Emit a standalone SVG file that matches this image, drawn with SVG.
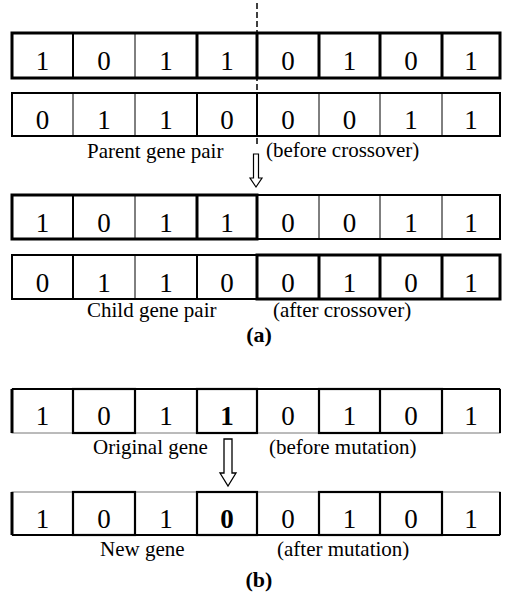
<svg xmlns="http://www.w3.org/2000/svg" width="507" height="602" viewBox="0 0 507 602">
<style>
.d{font-family:"Liberation Serif","Times New Roman",serif;font-size:27px;text-anchor:middle;fill:#000}
.b{font-weight:bold}
.l{font-family:"Liberation Serif","Times New Roman",serif;font-size:21px;fill:#000}
.t{font-family:"Liberation Serif","Times New Roman",serif;font-size:22px;font-weight:bold;text-anchor:middle;fill:#000}
.f{fill:#fff;stroke:#000}
.s1{stroke:#000;stroke-width:1;fill:none}
.s2{stroke:#000;stroke-width:2;fill:none}
.s3{stroke:#000;stroke-width:3;fill:none}
.m{stroke:#000;stroke-width:2.2;fill:none}
.g1{stroke:#777;stroke-width:1;fill:none}
</style>
<rect width="507" height="602" fill="#fff"/>

<g id="parent1">
<rect x="12" y="33" width="488" height="45" class="s3"/>
<line x1="73" y1="33" x2="73" y2="78" class="s2"/>
<line x1="135" y1="33" x2="135" y2="78" class="s1"/>
<line x1="197" y1="33" x2="197" y2="78" class="s3"/>
<line x1="257" y1="33" x2="257" y2="78" class="s3"/>
<line x1="319" y1="33" x2="319" y2="78" class="s3"/>
<line x1="380" y1="33" x2="380" y2="78" class="s3"/>
<line x1="442" y1="33" x2="442" y2="78" class="s3"/>
<text class="d" x="42.5" y="70">1</text><text class="d" x="104" y="70">0</text><text class="d" x="166" y="70">1</text><text class="d" x="227" y="70">1</text>
<text class="d" x="288" y="70">0</text><text class="d" x="349.5" y="70">1</text><text class="d" x="411" y="70">0</text><text class="d" x="471" y="70">1</text>
</g>

<g id="parent2">
<rect x="12" y="93" width="488" height="43" class="s2"/>
<line x1="73" y1="93" x2="73" y2="136" class="s1"/>
<line x1="135" y1="93" x2="135" y2="136" class="s1"/>
<line x1="197" y1="93" x2="197" y2="136" class="s2"/>
<line x1="257" y1="93" x2="257" y2="136" class="s2"/>
<line x1="319" y1="93" x2="319" y2="136" class="s1"/>
<line x1="380" y1="93" x2="380" y2="136" class="s1"/>
<line x1="442" y1="93" x2="442" y2="136" class="s1"/>
<text class="d" x="42.5" y="129">0</text><text class="d" x="104" y="129">1</text><text class="d" x="166" y="129">1</text><text class="d" x="227" y="129">0</text>
<text class="d" x="288" y="129">0</text><text class="d" x="349.5" y="129">0</text><text class="d" x="411" y="129">1</text><text class="d" x="471" y="129">1</text>
</g>
<text class="l" x="87" y="158">Parent gene pair</text>
<text class="l" x="266" y="157">(before crossover)</text>

<g id="child1">
<rect x="257" y="195" width="243" height="44" class="s2"/>
<line x1="319" y1="195" x2="319" y2="239" class="s1"/>
<line x1="380" y1="195" x2="380" y2="239" class="s1"/>
<line x1="442" y1="195" x2="442" y2="239" class="s1"/>
<rect x="12" y="195" width="245" height="44" class="s3"/>
<line x1="73" y1="195" x2="73" y2="239" class="s2"/>
<line x1="135" y1="195" x2="135" y2="239" class="s1"/>
<line x1="197" y1="195" x2="197" y2="239" class="s3"/>
<text class="d" x="42.5" y="232">1</text><text class="d" x="104" y="232">0</text><text class="d" x="166" y="232">1</text><text class="d" x="227" y="232">1</text>
<text class="d" x="288" y="232">0</text><text class="d" x="349.5" y="232">0</text><text class="d" x="411" y="232">1</text><text class="d" x="471" y="232">1</text>
</g>

<g id="child2">
<rect x="12" y="255" width="245" height="44" class="s2"/>
<line x1="73" y1="255" x2="73" y2="299" class="s2"/>
<line x1="135" y1="255" x2="135" y2="299" class="s1"/>
<line x1="197" y1="255" x2="197" y2="299" class="s2"/>
<rect x="257" y="255" width="243" height="44" class="s3"/>
<line x1="319" y1="255" x2="319" y2="299" class="s3"/>
<line x1="380" y1="255" x2="380" y2="299" class="s3"/>
<line x1="442" y1="255" x2="442" y2="299" class="s3"/>
<text class="d" x="42.5" y="292">0</text><text class="d" x="104" y="292">1</text><text class="d" x="166" y="292">1</text><text class="d" x="227" y="292">0</text>
<text class="d" x="288" y="292">0</text><text class="d" x="349.5" y="292">1</text><text class="d" x="411" y="292">0</text><text class="d" x="471" y="292">1</text>
</g>
<text class="l" x="87" y="317">Child gene pair</text>
<text class="l" x="273" y="317">(after crossover)</text>
<text class="t" x="259" y="342">(a)</text>

<g id="original">
<rect x="12" y="389" width="488" height="44" class="g1"/>
<line x1="12" y1="389" x2="500" y2="389" class="s2"/>
<line x1="12" y1="389" x2="12" y2="433" class="s3"/>
<line x1="500" y1="389" x2="500" y2="433" class="s2"/>
<line x1="135" y1="389" x2="135" y2="433" class="s1"/>
<rect x="73" y="389" width="62" height="44" class="m"/>
<rect x="197" y="389" width="60" height="44" class="m"/>
<rect x="319" y="389" width="123" height="44" class="m"/>
<line x1="380" y1="389" x2="380" y2="433" class="m"/>
<text class="d" x="42.5" y="425">1</text><text class="d" x="104" y="425">0</text><text class="d" x="166" y="425">1</text><text class="d b" x="227" y="425">1</text>
<text class="d" x="288" y="425">0</text><text class="d" x="349.5" y="425">1</text><text class="d" x="411" y="425">0</text><text class="d" x="471" y="425">1</text>
</g>
<text class="l" x="93" y="454">Original gene</text>
<text class="l" x="269" y="454">(before mutation)</text>

<g id="newgene">
<rect x="12" y="492" width="488" height="43" class="g1"/>
<line x1="12" y1="535" x2="500" y2="535" class="s2"/>
<line x1="12" y1="492" x2="12" y2="535" class="s3"/>
<line x1="500" y1="492" x2="500" y2="535" class="s2"/>
<line x1="135" y1="492" x2="135" y2="535" class="s1"/>
<rect x="73" y="492" width="62" height="43" class="m"/>
<rect x="197" y="492" width="60" height="43" class="m"/>
<rect x="319" y="492" width="123" height="43" class="m"/>
<line x1="380" y1="492" x2="380" y2="535" class="m"/>
<text class="d" x="42.5" y="528">1</text><text class="d" x="104" y="528">0</text><text class="d" x="166" y="528">1</text><text class="d b" x="227" y="528">0</text>
<text class="d" x="288" y="528">0</text><text class="d" x="349.5" y="528">1</text><text class="d" x="411" y="528">0</text><text class="d" x="471" y="528">1</text>
</g>
<text class="l" x="100" y="556">New gene</text>
<text class="l" x="277" y="556">(after mutation)</text>
<text class="t" x="259" y="587">(b)</text>

<g id="connectors">
<line x1="257" y1="3" x2="257" y2="146" stroke="#000" stroke-width="1.5" stroke-dasharray="6 3"/>
<path d="M253.5,154 H258.5 V178 H262 L256,187 L250,178 H253.5 Z" class="f" stroke-width="1.2"/>
<path d="M224,439 H232 V473 H236 L228,486 L220,473 H224 Z" class="f" stroke-width="1.3"/>
</g>
</svg>
